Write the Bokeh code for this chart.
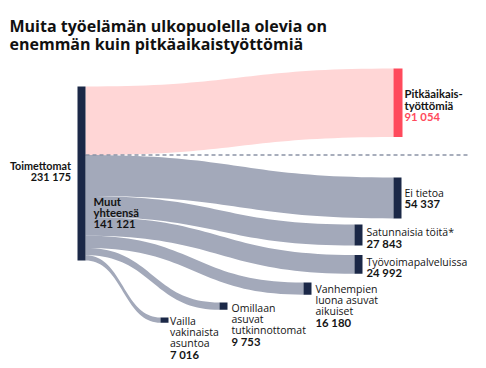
from bokeh.plotting import figure
from bokeh.models import Range1d
from bokeh.core.properties import value
from bokeh.embed import file_html
from bokeh.resources import INLINE

# ---------------- data ----------------
title_lines = ["Muita työelämän ulkopuolella olevia on", "enemmän kuin pitkäaikaistyöttömiä"]
source_name = "Toimettomat"
source_total = 231175
longterm_name = ["Pitkäaikais-", "työttömiä"]
longterm_value = 91054
others_name = ["Muut", "yhteensä"]
others_total = 141121
categories = [
    ["Ei tietoa"],
    ["Satunnaisia töitä*"],
    ["Työvoimapalveluissa"],
    ["Vanhempien", "luona asuvat", "aikuiset"],
    ["Omillaan", "asuvat", "tutkinnottomat"],
    ["Vailla", "vakinaista", "asuntoa"],
]
values = [54337, 27843, 24992, 16180, 9753, 7016]

# ---------------- layout (screen px) ----------------
W, H = 478, 360
FONT = "Open Sans"
BFONT = "Lato"
NAVY = "#1b2847"
GRAY = "#a3a9ba"
PINK = "#ffd6d6"
RED = "#ff4a5c"
TXT = "#141414"

src_x0, src_x1 = 77, 85
src_top = 86
k = 174.0 / source_total          # px per person
lt_x0, lt_top = 393, 68
bar_w = 8
tgt_x0 = [393, 354, 354, 303, 219, 160]
tgt_top = [177, 224, 254.5, 282, 302, 317]
lab_x = [404, 366, 366, 315, 231, 169.5]
lab_y0 = [192, 231.5, 261, 288.3, 307.3, 320]
LH = 11.3


def fmt(n):
    return f"{n:,}".replace(",", "\u00a0")


def bez(x0, y0, x1, y1, n=40):
    xm = (x0 + x1) / 2.0
    pts = []
    for i in range(n + 1):
        t = i / n
        a, b, c, d = (1 - t) ** 3, 3 * t * (1 - t) ** 2, 3 * t * t * (1 - t), t ** 3
        pts.append((a * x0 + b * xm + c * xm + d * x1, a * y0 + b * y0 + c * y1 + d * y1))
    return pts


def ribbon(x0, s0, x1, t0, w):
    top = bez(x0, s0, x1, t0)
    bot = bez(x0, s0 + w, x1, t0 + w)[::-1]
    pts = top + bot
    return [p[0] for p in pts], [p[1] for p in pts]


p = figure(width=W, height=H, x_range=Range1d(0, W), y_range=Range1d(H, 0),
           output_backend="svg", toolbar_location=None, min_border=0)
p.axis.visible = False
p.grid.visible = False
p.outline_line_color = None
p.background_fill_color = "white"
p.border_fill_color = "white"

# ribbons
xs, ys, cols = [], [], []
wl = longterm_value * k
rx, ry = ribbon(src_x1, src_top, lt_x0, lt_top, wl)
xs.append(rx); ys.append(ry); cols.append(PINK)
s = src_top + wl
for v, x0, t0 in zip(values, tgt_x0, tgt_top):
    w = v * k
    rx, ry = ribbon(src_x1, s, x0, t0, w)
    xs.append(rx); ys.append(ry); cols.append(GRAY)
    s += w
p.patches(xs, ys, fill_color=cols, line_color=None)

# dashed separator
p.line([src_x1, 468], [src_top + wl, src_top + wl], line_color="#8c94a7", line_width=1.5, line_dash="4 3")

# bars
bx0 = [src_x0, lt_x0] + tgt_x0
bx1 = [src_x1, lt_x0 + 9] + [x + bar_w for x in tgt_x0]
by0 = [src_top, lt_top] + tgt_top
by1 = [src_top + source_total * k, lt_top + wl] + [t + v * k for t, v in zip(tgt_top, values)]
bc = [NAVY, RED] + [NAVY] * len(values)
p.quad(left=bx0, right=bx1, top=by0, bottom=by1, fill_color=bc, line_color=None)


def txt(x, y, t, size="10.5px", style="normal", color=TXT, align="left", baseline="middle", font=FONT):
    p.text(x=[x], y=[y], text=[t], text_font=value(font), text_font_size=size,
           text_font_style=style, text_color=color, text_align=align, text_baseline=baseline)


def btxt(x, y, t, size="11.3px", color=TXT, align="left"):
    txt(x, y, t, size=size, style="bold", color=color, align=align, font=BFONT)


# title
txt(9, 25.5, title_lines[0], size="16px", style="bold", color="#111111", baseline="alphabetic")
txt(9, 43.5, title_lines[1], size="16px", style="bold", color="#111111", baseline="alphabetic")

# source
btxt(70.5, 165, source_name, size="10.8px", align="right")
btxt(70.5, 176, fmt(source_total), size="10.8px", align="right")

# others total
btxt(93, 200.5, others_name[0])
btxt(93, 211.5, others_name[1])
btxt(93, 223, fmt(others_total))

# long-term
btxt(404, 93.3, longterm_name[0])
btxt(404, 104.5, longterm_name[1])
btxt(404, 116, fmt(longterm_value), color=RED)

# categories
for lines, v, x, y in zip(categories, values, lab_x, lab_y0):
    for i, ln in enumerate(lines):
        txt(x, y + i * LH, ln)
    btxt(x, y + len(lines) * LH, fmt(v))

open("out.html", "w").write(file_html(p, INLINE))
